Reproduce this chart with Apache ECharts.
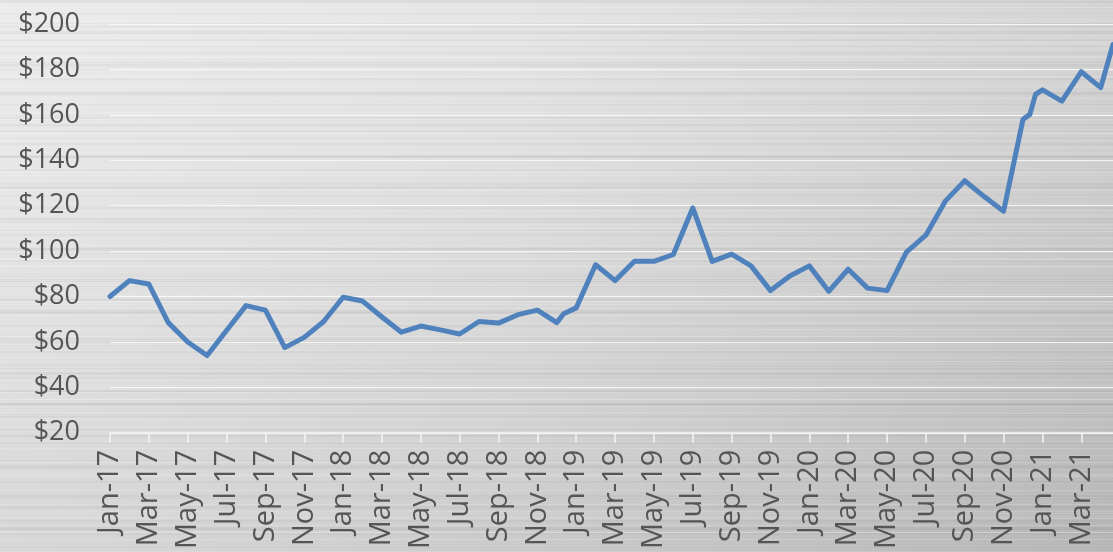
<!DOCTYPE html>
<html>
<head>
<meta charset="utf-8">
<script src="https://cdn.jsdelivr.net/npm/echarts@6/dist/echarts.min.js"></script>
<style>
  html, body { margin: 0; padding: 0; }
  #chart {
    width: 1113px;
    height: 552px;
    /* brushed-metal backdrop: fine horizontal streaks over a soft grey sweep */
    background:
      repeating-linear-gradient(180deg, rgba(255,255,255,0.16) 0 1px, transparent 1px 7px),
      repeating-linear-gradient(180deg, rgba(0,0,0,0.03) 0 2px, transparent 2px 13px),
      repeating-linear-gradient(180deg, rgba(255,255,255,0.14) 0 1px, transparent 1px 19px),
      repeating-linear-gradient(180deg, rgba(0,0,0,0.04) 0 3px, transparent 3px 31px),
      repeating-linear-gradient(180deg, rgba(255,255,255,0.10) 0 2px, transparent 2px 43px),
      repeating-linear-gradient(180deg, rgba(0,0,0,0.03) 0 1px, transparent 1px 23px),
      linear-gradient(90deg, rgba(255,255,255,0.10) 0%, rgba(0,0,0,0) 45%, rgba(0,0,0,0.05) 100%),
      linear-gradient(165deg, #eaeaea 0%, #dedede 40%, #d1d1d1 70%, #c0c0c0 100%);
  }
</style>
</head>
<body>
<div id="chart"></div>
<script>
// Price history (observation dates and closing values)
const dates = [
  '2017-01-01','2017-02-01','2017-03-01','2017-04-01','2017-05-01','2017-06-01',
  '2017-07-01','2017-08-01','2017-09-01','2017-10-01','2017-11-01','2017-12-01',
  '2018-01-01','2018-02-01','2018-03-01','2018-04-01','2018-05-01','2018-06-01',
  '2018-07-01','2018-08-01','2018-09-01','2018-10-01','2018-11-01','2018-12-01',
  '2018-12-12',
  '2019-01-01','2019-02-01','2019-03-01','2019-04-01','2019-05-01','2019-06-01',
  '2019-07-01','2019-08-01','2019-09-01','2019-10-01','2019-11-01','2019-12-01',
  '2020-01-01','2020-02-01','2020-03-01','2020-04-01','2020-05-01','2020-06-01',
  '2020-07-01','2020-08-01','2020-09-01','2020-10-01','2020-11-01','2020-12-01',
  '2020-12-12','2020-12-21',
  '2021-01-01','2021-02-01','2021-03-01','2021-04-01','2021-04-20'
];
const prices = [
  80, 87, 85.5, 68.5, 60, 54,
  65, 76, 74, 57.5, 62, 69,
  79.7, 78, 71, 64.3, 67, 65.3,
  63.5, 69, 68.3, 72, 74, 68.5,
  72.4,
  75, 94, 87, 95.5, 95.5, 98.5,
  119, 95.5, 98.7, 93.5, 82.6, 89,
  93.5, 82.3, 92, 83.7, 82.6, 99.5,
  107, 122, 131, 124, 117.5, 158,
  160.2, 169,
  171, 166, 179, 172, 191
];
const monthNames = ['Jan','Feb','Mar','Apr','May','Jun','Jul','Aug','Sep','Oct','Nov','Dec'];
const startYear = 2017;
const yTicks = { min: 20, max: 200, step: 20 };

// Date -> months elapsed since Jan 2017 (fractional within the month)
function monthPos(s) {
  const [y, m, d] = s.split('-').map(Number);
  const days = new Date(y, m, 0).getDate();
  return (y - startYear) * 12 + (m - 1) + (d - 1) / days;
}
const points = dates.map((d, i) => [monthPos(d), prices[i]]);
const xMax = points[points.length - 1][0];

const font = '"Open Sans", "Noto Sans", sans-serif';
const chart = echarts.init(document.getElementById('chart'), null, { renderer: 'canvas' });
chart.setOption({
  backgroundColor: 'transparent',
  animation: false,
  grid: { left: 110, right: 0, top: 24, bottom: 118, containLabel: false },
  xAxis: {
    type: 'value',
    min: 0,
    max: xMax,
    interval: 2,
    axisLine: { show: true, lineStyle: { color: '#f4f4f4', width: 1.5 } },
    axisTick: { show: true, length: 10, lineStyle: { color: '#f4f4f4', width: 1.5 } },
    splitLine: { show: false },
    axisLabel: {
      rotate: 90,
      margin: 17,
      color: '#555555',
      fontFamily: font,
      fontSize: 29,
      showMaxLabel: false,
      formatter: function (v) {
        const r = Math.round(v);
        if (Math.abs(v - r) > 1e-6) return '';
        const y = startYear + Math.floor(r / 12);
        return monthNames[r % 12] + '-' + String(y).slice(2);
      }
    }
  },
  yAxis: {
    type: 'value',
    min: yTicks.min,
    max: yTicks.max,
    interval: yTicks.step,
    axisLine: { show: false },
    axisTick: { show: false },
    splitLine: { show: true, lineStyle: { color: 'rgba(250,250,250,0.85)', width: 1.2 } },
    axisLabel: {
      margin: 30,
      color: '#555555',
      fontFamily: font,
      fontSize: 27,
      formatter: v => '$' + v
    }
  },
  series: [{
    type: 'line',
    data: points,
    showSymbol: false,
    symbol: 'none',
    clip: true,
    lineStyle: { color: '#4f81bd', width: 5, join: 'round', cap: 'round' }
  }]
});
</script>
</body>
</html>
